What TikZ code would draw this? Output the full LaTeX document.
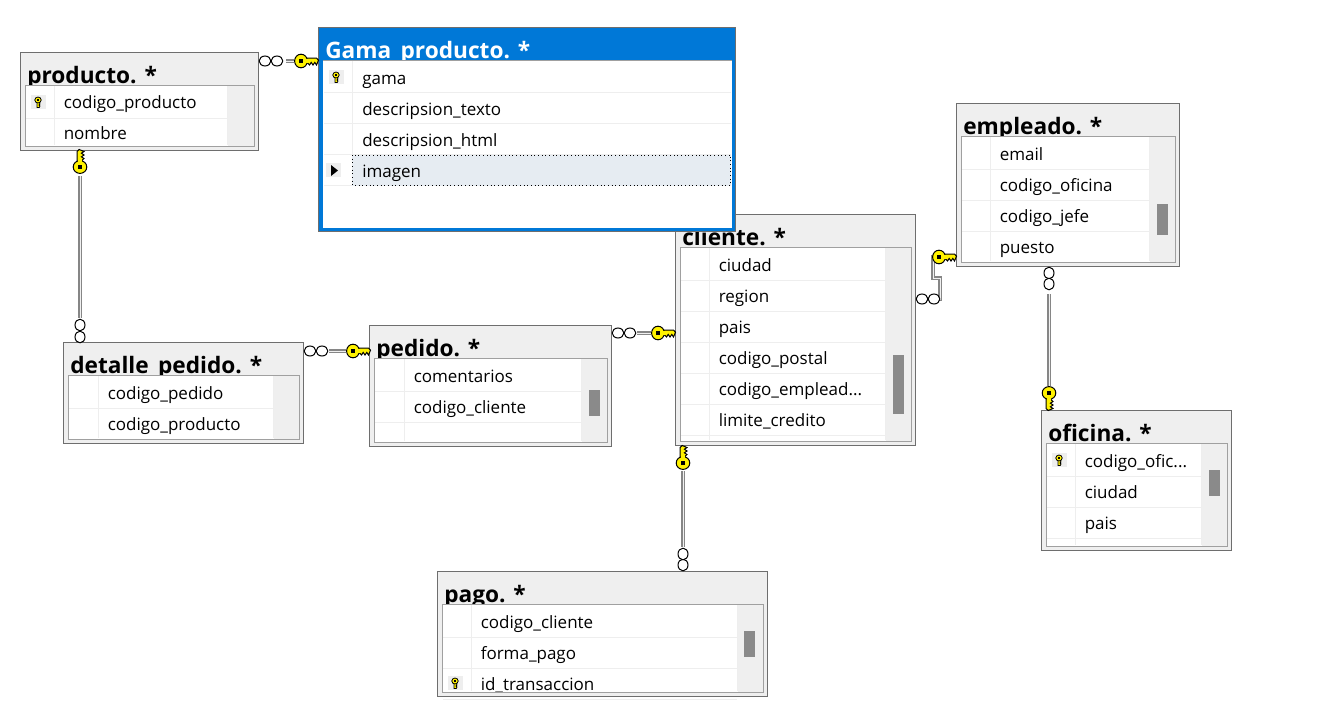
\documentclass[tikz,border=0pt]{standalone}
\usepackage{fontspec}
\setmainfont{Open Sans}
\definecolor{panel}{HTML}{EFEFEF}
\definecolor{frameg}{HTML}{6E6E6E}
\definecolor{gridg}{HTML}{A0A0A0}
\definecolor{sepg}{HTML}{EEEEEE}
\definecolor{thumb}{HTML}{8A8A8A}
\definecolor{selblue}{HTML}{0078D7}
\definecolor{selrow}{HTML}{E6ECF2}
\definecolor{keyy}{HTML}{FFF200}
\newcommand{\dts}{...}
\tikzset{
  x=0.75pt,y=-0.75pt,
  rowtext/.style={anchor=base west,inner sep=0pt,font=\fontsize{12.75}{14}\selectfont,text=black},
  titletext/.style={anchor=base west,inner sep=0pt,font=\fontsize{17}{18}\selectfont\bfseries,text=black},
  conn/.style={draw=gray!95,double=gray!12,double distance=0.7pt,line width=0.9pt},
  pics/ring/.style={code={\draw[black,fill=white,line width=0.75pt] (0,0) ellipse [x radius=5.8,y radius=5];}},
  pics/vring/.style={code={\draw[black,fill=white,line width=0.75pt] (0,0) ellipse [x radius=5,y radius=5.8];}},
  pics/bigkey/.style={code={
    \draw[black,fill=keyy,line width=0.75pt,line join=miter]
      (4,-3) -- (15.5,-3) -- (17.5,-0.8) -- (15.5,4) -- (13.8,1.4) -- (12,4) -- (10.2,1.4) -- (8.5,4) -- (6.8,2.2) -- (4,2.2) -- cycle;
    \draw[black,fill=keyy,line width=0.75pt] (0,0) ellipse [x radius=6.4,y radius=6.8];
    \fill[keyy] (4,-2.5) rectangle (8.5,1.7);
    \fill[black] (-1.6,-1.6) rectangle (1.6,1.6);
  }},
  pics/smallkey/.style={code={
    \fill[sepg] (-7.5,-7) rectangle (7.5,7);
    \draw[black,fill=keyy,line width=0.6pt] (-1,0) -- (-1,5.5) -- (1.2,5.5) -- (2,4) -- (1,3) -- (2,2) -- (1,0) -- cycle;
    \draw[black,fill=keyy,line width=0.6pt] (0,-2) ellipse [x radius=3.2,y radius=3];
    \fill[black] (-0.7,-2.7) rectangle (0.7,-1.5);
  }}
}
% #1 name #2 L #3 T #4 R #5 B #6 title #7 colsep #8 rightsep #9 rows (y/text)
\newcommand{\dbtable}[9]{%
  \node[draw=frameg,fill=panel,line width=0.75pt,minimum width={(#4-#2)*0.75pt},minimum height={(#5-#3)*0.75pt},inner sep=0pt,anchor=north west] (#1) at (#2,#3) {};
  \node[titletext] (#1title) at (#2+7,#3+31) {#6};
  \fill[white] (#2+5,#3+33) rectangle (#8+1,#5-4);
  \draw[sepg,line width=0.75pt] (#7+0.5,#3+34) -- (#7+0.5,#5-5) (#8+0.5,#3+34) -- (#8+0.5,#5-5);
  \foreach \ry/\rt [count=\ri] in {#9}{
    \draw[sepg,line width=0.75pt] (#2+6,\ry+15.5) -- (#8,\ry+15.5);
    \node[rowtext] (#1row\ri) at (#7+9.5,\ry+6) {\rt};
  }
  \fill[panel] (#2+1,#5-3.5) rectangle (#4,#5);
  \draw[gridg,line width=0.75pt] (#2+5.5,#3+33.5) rectangle (#4-3.5,#5-3.5);
}
\begin{document}
\begin{tikzpicture}
\useasboundingbox (0,0) rectangle (1321,700);
\fill[white] (0,0) rectangle (1321,700);

\dbtable{producto}{20}{52}{258}{150}{producto. *}{54}{227}{102.6/codigo\_producto,133.6/nombre}
\dbtable{detalle}{63}{342}{303}{443}{detalle\_pedido. *}{98}{273}{393/codigo\_pedido,424/codigo\_producto}
\dbtable{pedido}{369}{325}{611}{446}{pedido. *}{404}{581}{376/comentarios,407/codigo\_cliente}
\dbtable{cliente}{675}{214}{915}{445}{cliente. *}{709}{885}{265/ciudad,296/region,327/pais,358/codigo\_postal,389/codigo\_emplead\dts,420/limite\_credito}
\dbtable{empleado}{956}{103}{1179}{266}{empleado. *}{990}{1149}{154/email,185/codigo\_oficina,216/codigo\_jefe,247/puesto}
\dbtable{oficina}{1041}{410}{1231}{550}{oficina. *}{1075}{1201}{461/codigo\_ofic\dts,492/ciudad,523/pais}
\dbtable{pago}{437}{571}{767}{696}{pago. *}{471}{737}{622/codigo\_cliente,653/forma\_pago,684/id\_transaccion}

% scroll thumbs
\fill[thumb] (589,390) rectangle (600,416);
\fill[thumb] (893,355) rectangle (904,414);
\fill[thumb] (1157,204) rectangle (1168,235);
\fill[thumb] (1209,470) rectangle (1220,496);
\fill[thumb] (744,631) rectangle (755,657);

% selected table
\node[draw=frameg,fill=selblue,line width=0.75pt,minimum width={417*0.75pt},minimum height={204*0.75pt},inner sep=0pt,anchor=north west] (gama) at (318,27) {};
\node[titletext,text=white] (gamatitle) at (325,58) {Gama\_producto. *};
\fill[white] (323,60) rectangle (732,228);
\draw[gridg,line width=0.75pt] (323,60.5) -- (732,60.5);
\draw[sepg,line width=0.75pt] (352.5,61) -- (352.5,186) (324,92.5) -- (731,92.5) (324,123.5) -- (731,123.5) (324,154.5) -- (731,154.5) (324,185.5) -- (731,185.5);
\fill[selrow] (352,155) rectangle (731,186);
\draw[black,line width=0.75pt,dotted] (352.5,155) rectangle (730.5,185.5);
\node[rowtext] (gamarow1) at (362,84) {gama};
\node[rowtext] (gamarow2) at (362,115) {descripsion\_texto};
\node[rowtext] (gamarow3) at (362,146) {descripsion\_html};
\node[rowtext] (gamarow4) at (362,177) {imagen};
\fill[sepg] (326,163) rectangle (341,177);
\fill[black] (331,165) -- (338,170.5) -- (331,176) -- cycle;

% key icons
\pic at (38,102) {smallkey};
\pic at (336,77) {smallkey};
\pic at (1059,460) {smallkey};
\pic at (455,683) {smallkey};

% connectors
\coordinate (c1a) at (producto.east |- 0,61);
\coordinate (c1b) at (gama.west |- 0,61);
\draw[conn] ([xshift=27*0.75pt]c1a) -- ([xshift=-24*0.75pt]c1b);
\pic at (265,61) {ring}; \pic at (277,61) {ring};
\pic at (301,61) {bigkey};

\coordinate (c2a) at (producto.south -| 80,0);
\coordinate (c2b) at (detalle.north -| 80,0);
\draw[conn] ([yshift=-25*0.75pt]c2a) -- ([yshift=24*0.75pt]c2b);
\pic at (80,337) {vring}; \pic at (80,325) {vring};
\pic[rotate=90] at (80,167) {bigkey};

\coordinate (c3a) at (detalle.east |- 0,351);
\coordinate (c3b) at (pedido.west |- 0,351);
\draw[conn] ([xshift=25*0.75pt]c3a) -- ([xshift=-23*0.75pt]c3b);
\pic at (310,351) {ring}; \pic at (322,351) {ring};
\pic at (353,351) {bigkey};

\coordinate (c4a) at (pedido.east |- 0,333);
\coordinate (c4b) at (cliente.west |- 0,333);
\draw[conn] ([xshift=25*0.75pt]c4a) -- ([xshift=-24*0.75pt]c4b);
\pic at (618,333) {ring}; \pic at (630,333) {ring};
\pic at (658,333) {bigkey};

\coordinate (c5a) at (cliente.south -| 683,0);
\coordinate (c5b) at (pago.north -| 683,0);
\draw[conn] ([yshift=-25*0.75pt]c5a) -- ([yshift=24*0.75pt]c5b);
\pic at (683,565) {vring}; \pic at (683,554) {vring};
\pic[rotate=90] at (683,463) {bigkey};

\coordinate (c6a) at (cliente.east |- 0,299);
\coordinate (c6b) at (empleado.west |- 0,257);
\draw[conn] (c6a) -| (940,278) -- (933,278) |- (c6b);
\pic at (922,299) {ring}; \pic at (934,299) {ring};
\pic at (939,257) {bigkey};

\coordinate (c7a) at (empleado.south -| 1049,0);
\coordinate (c7b) at (oficina.north -| 1049,0);
\draw[conn] ([yshift=-27*0.75pt]c7a) -- ([yshift=24*0.75pt]c7b);
\pic at (1049,273) {vring}; \pic at (1049,284) {vring};
\pic[rotate=-90,yscale=-1] at (1049,393) {bigkey};
\end{tikzpicture}
\end{document}
